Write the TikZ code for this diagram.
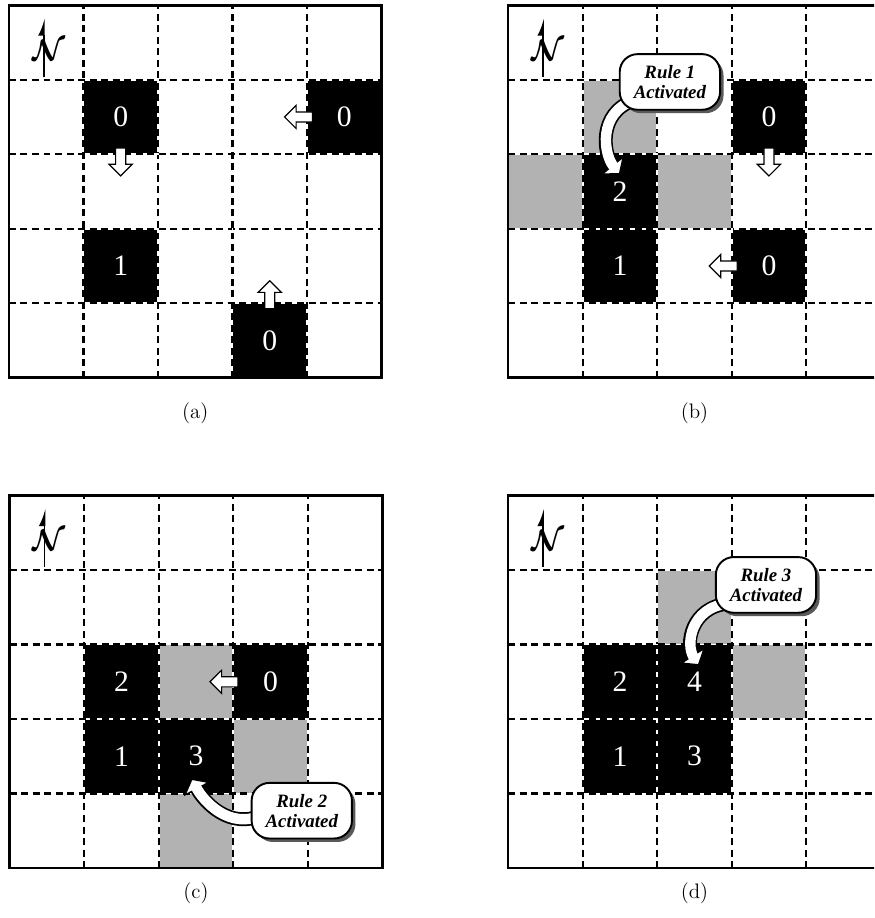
\documentclass[tikz,border=0pt]{standalone}
\usepackage{bm}
\usepackage{fontspec}
\newfontfamily\timesfont{Liberation Serif}
\usetikzlibrary{arrows.meta,shapes.arrows,shadows}

\tikzset{
  agent/.style={fill=black,text=white,minimum size=1.5cm,inner sep=0pt,
    font=\timesfont\fontsize{17}{20}\selectfont},
  visited/.style={fill=black!30},
  frame/.style={line width=1.5pt},
  gridgap/.style={white,line width=1pt},
  griddash/.style={line width=1.3pt,dash pattern=on 4pt off 2.6pt},
  move/.style={single arrow,draw,fill=white,line width=0.7pt,inner sep=0.09cm,
    single arrow head extend=0.13cm,minimum height=0.56cm},
  callout/.style={draw,fill=white,line width=1.1pt,rounded corners=0.36cm,
    minimum width=2.02cm,minimum height=1.12cm,align=center,inner sep=1pt,
    font=\timesfont\bfseries\itshape\fontsize{10.8}{11.5}\selectfont,
    drop shadow={shadow xshift=0.07cm,shadow yshift=-0.07cm,fill=black!65,opacity=1}},
  turnarrow/.style={line width=0.28cm,
    -{Triangle[length=0.24cm,width=0.6cm,fill=white,line width=0.7pt]}},
  turncore/.style={white,line width=0.21cm,shorten >=0.2cm},
  caption/.style={font=\large},
  northsign/.style={font=\fontsize{19}{19}\selectfont},
}

% grid lines, frame and north sign of one board
\newcommand{\gridlines}[1]{%
  \foreach \k in {1,...,4} {
    \draw[gridgap] (\k,0) -- (\k,5);
    \draw[gridgap] (0,\k) -- (5,\k);
    \draw[griddash] (\k,0) -- (\k,5);
    \draw[griddash] (0,\k) -- (5,\k);
  }
  \draw[frame] (0,0) rectangle (5,5);
  \draw[line width=0.9pt,-{Latex[left,length=0.3cm,width=0.24cm]}] (0.47,4.04) -- (0.47,4.83);
  \node[northsign] (#1north) at (0.53,4.4) {$\bm{\mathcal{N}}$};
}

\begin{document}
\begin{tikzpicture}[x=1.5cm,y=1.5cm]
\useasboundingbox (0,0) rectangle (11.73,12.32);
\clip (0,0) rectangle (11.73,12.32);

% (a)
\begin{scope}[shift={(0.12,7.25)}]
\node[agent] (aA) at (1.5,3.5) {0};
\node[agent] (aB) at (4.5,3.5) {0};
\node[agent] (aC) at (1.5,1.5) {1};
\node[agent] (aD) at (3.5,0.5) {0};
\gridlines{a}
\node[move,rotate=-90] (aAm) at (1.5,2.93) {};
\node[move,rotate=180] (aBm) at (3.92,3.5) {};
\node[move,rotate=90] (aDm) at (3.5,1.08) {};
\node[caption] (acap) at (2.5,-0.47) {(a)};
\end{scope}

% (b)
\begin{scope}[shift={(6.82,7.25)}]
\fill[visited] (1,3) rectangle (2,4);
\fill[visited] (0,2) rectangle (1,3);
\fill[visited] (2,2) rectangle (3,3);
\node[agent] (bA) at (1.5,2.5) {2};
\node[agent] (bB) at (1.5,1.5) {1};
\node[agent] (bC) at (3.5,3.5) {0};
\node[agent] (bD) at (3.5,1.5) {0};
\gridlines{b}
\node[move,rotate=-90] (bCm) at (3.5,2.93) {};
\node[move,rotate=180] (bDm) at (2.92,1.5) {};
\coordinate (bRs) at (1.68,3.72);
\coordinate (bAt) at (1.5,2.73);
\draw[turnarrow] (bRs) .. controls (1.2,3.55) and (1.28,3.0) .. (bAt);
\draw[turncore] (bRs) .. controls (1.2,3.55) and (1.28,3.0) .. (bAt);
\node[callout] (bR) at (2.17,3.97) {Rule 1\\Activated};
\node[caption] (bcap) at (2.5,-0.47) {(b)};
\end{scope}

% (c)
\begin{scope}[shift={(0.13,0.67)}]
\fill[visited] (2,2) rectangle (3,3);
\fill[visited] (3,1) rectangle (4,2);
\fill[visited] (2,0) rectangle (3,1);
\node[agent] (cA) at (1.5,2.5) {2};
\node[agent] (cB) at (1.5,1.5) {1};
\node[agent] (cC) at (2.5,1.5) {3};
\node[agent] (cD) at (3.5,2.5) {0};
\gridlines{c}
\node[move,rotate=180] (cDm) at (2.91,2.5) {};
\coordinate (cRs) at (3.4,0.72);
\coordinate (cCt) at (2.44,1.2);
\draw[turnarrow] (cRs) .. controls (2.95,0.5) and (2.6,0.9) .. (cCt);
\draw[turncore] (cRs) .. controls (2.95,0.5) and (2.6,0.9) .. (cCt);
\node[callout] (cR) at (3.92,0.77) {Rule 2\\Activated};
\node[caption] (ccap) at (2.5,-0.34) {(c)};
\end{scope}

% (d)
\begin{scope}[shift={(6.82,0.67)}]
\fill[visited] (2,3) rectangle (3,4);
\fill[visited] (3,2) rectangle (4,3);
\node[agent] (dA) at (1.5,2.5) {2};
\node[agent] (dB) at (2.5,2.5) {4};
\node[agent] (dC) at (1.5,1.5) {1};
\node[agent] (dD) at (2.5,1.5) {3};
\gridlines{d}
\coordinate (dRs) at (2.95,3.55);
\coordinate (dBt) at (2.56,2.72);
\draw[turnarrow] (dRs) .. controls (2.45,3.5) and (2.38,3.0) .. (dBt);
\draw[turncore] (dRs) .. controls (2.45,3.5) and (2.38,3.0) .. (dBt);
\node[callout] (dR) at (3.46,3.80) {Rule 3\\Activated};
\node[caption] (dcap) at (2.5,-0.34) {(d)};
\end{scope}
\end{tikzpicture}
\end{document}
